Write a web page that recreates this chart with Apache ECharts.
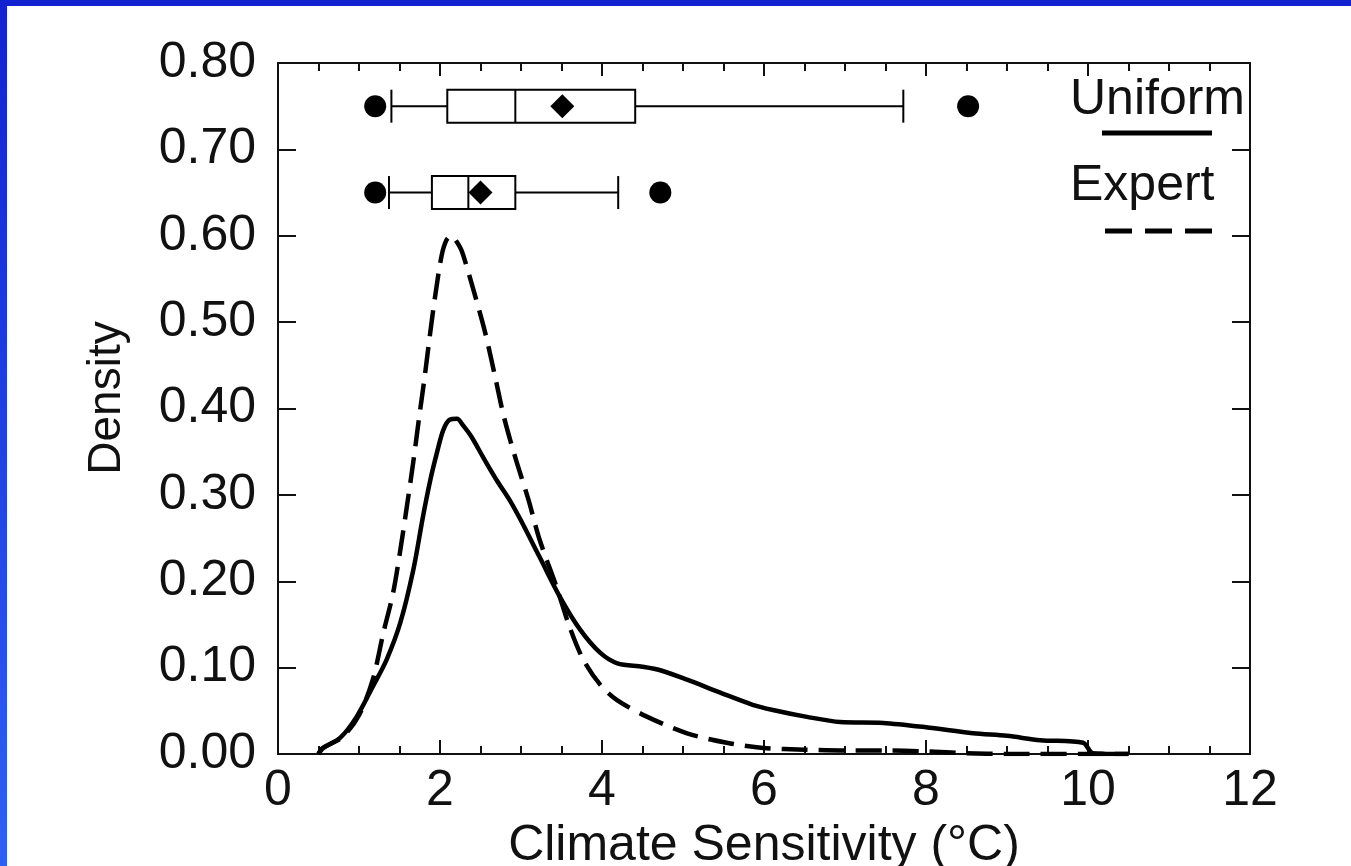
<!DOCTYPE html>
<html>
<head>
<meta charset="utf-8">
<script src="https://cdn.jsdelivr.net/npm/echarts@6/dist/echarts.min.js"></script>
<style>
  html, body { margin: 0; padding: 0; background: #fff; }
  #wrap { position: relative; width: 1351px; height: 866px; overflow: hidden; background: #fff; }
  #chart { position: absolute; left: 0; top: 0; width: 1351px; height: 866px; }
  #bTop { position: absolute; left: 0; top: 0; width: 1351px; height: 6px; background: #1222d0; z-index: 5; }
  #bLeft { position: absolute; left: 0; top: 0; width: 7px; height: 866px; background: linear-gradient(#1222d0, #2f60f4); z-index: 5; }
</style>
</head>
<body>
<div id="wrap">
  <div id="chart"></div>
  <div id="bTop"></div>
  <div id="bLeft"></div>
</div>
<script>
// ---- data ----
const xTicks = [0, 2, 4, 6, 8, 10, 12];
const yTicks = [0.0, 0.1, 0.2, 0.3, 0.4, 0.5, 0.6, 0.7, 0.8];

const uniformX = [0.50, 0.54, 0.77, 0.97, 1.17, 1.34, 1.51, 1.67, 1.79, 1.88, 1.96, 2.04, 2.12, 2.21, 2.28, 2.39, 2.53, 2.70, 2.86, 2.99, 3.23, 3.48, 3.73, 3.98, 4.19, 4.50, 4.72, 5.05, 5.46, 5.86, 6.11, 6.53, 6.94, 7.47, 8.00, 8.58, 9.00, 9.41, 9.94, 10.06, 10.50];
const uniformY = [0.000, 0.006, 0.019, 0.043, 0.078, 0.109, 0.152, 0.213, 0.275, 0.317, 0.348, 0.375, 0.387, 0.388, 0.381, 0.367, 0.344, 0.317, 0.294, 0.272, 0.228, 0.182, 0.144, 0.117, 0.105, 0.101, 0.097, 0.086, 0.071, 0.057, 0.051, 0.043, 0.037, 0.036, 0.031, 0.024, 0.021, 0.016, 0.013, 0.001, 0.000];

const expertX = [0.50, 0.56, 0.80, 1.00, 1.17, 1.30, 1.42, 1.51, 1.59, 1.67, 1.74, 1.81, 1.87, 1.94, 2.02, 2.08, 2.14, 2.20, 2.27, 2.42, 2.56, 2.68, 2.79, 2.93, 3.09, 3.23, 3.44, 3.60, 3.77, 3.98, 4.19, 4.56, 5.05, 5.54, 5.99, 6.50, 7.00, 7.50, 8.00, 8.50, 9.00, 10.00, 10.50];
const expertY = [0.000, 0.007, 0.020, 0.045, 0.086, 0.140, 0.186, 0.236, 0.286, 0.338, 0.388, 0.436, 0.481, 0.530, 0.577, 0.595, 0.600, 0.594, 0.582, 0.535, 0.487, 0.437, 0.390, 0.343, 0.295, 0.248, 0.193, 0.147, 0.109, 0.080, 0.062, 0.043, 0.024, 0.013, 0.007, 0.005, 0.004, 0.004, 0.003, 0.001, 0.000, 0.000, 0.000];

// box plots: rows = Uniform, Expert
const boxNames = ['Uniform', 'Expert'];
const boxRow = [0.75, 0.65];
const boxWhiskerLow = [1.40, 1.37];
const boxQ1 = [2.09, 1.90];
const boxMedian = [2.93, 2.35];
const boxQ3 = [4.41, 2.93];
const boxWhiskerHigh = [7.72, 4.20];
const boxMean = [3.51, 2.50];
const uniformOutliers = [1.20, 8.52];
const expertOutliers = [1.20, 4.72];

// ---- build chart ----
const FONT = '"Liberation Sans", Arial, Helvetica, sans-serif';
const INK = '#111';

const chart = echarts.init(document.getElementById('chart'), null, { renderer: 'canvas' });

const zip = (xs, ys) => xs.map((x, i) => [x, ys[i]]);
const boxData = boxRow.map((r, i) => [r, boxWhiskerLow[i], boxQ1[i], boxMedian[i], boxQ3[i], boxWhiskerHigh[i]]);
const meanData = boxRow.map((r, i) => [boxMean[i], r]);
const outlierData = uniformOutliers.map(v => [v, boxRow[0]]).concat(expertOutliers.map(v => [v, boxRow[1]]));

const axisLine = { show: true, onZero: false, lineStyle: { color: INK, width: 2 } };

const option = {
  animation: false,
  backgroundColor: '#fff',
  grid: { left: 278, right: 101, top: 63, bottom: 112, containLabel: false, outerBoundsMode: 'none' },
  xAxis: [
    {
      type: 'value', min: 0, max: 12, interval: 2, position: 'bottom',
      axisLine: axisLine,
      axisTick: { show: true, inside: true, length: 14, lineStyle: { color: INK, width: 2 } },
      minorTick: { show: true, splitNumber: 4, length: 8, lineStyle: { color: INK, width: 2 } },
      splitLine: { show: false }, minorSplitLine: { show: false },
      axisLabel: { show: true, margin: 12, fontSize: 50, fontFamily: FONT, color: INK,
        formatter: v => (xTicks.indexOf(v) >= 0 ? String(v) : '') },
      name: 'Climate Sensitivity (°C)', nameLocation: 'middle', nameGap: 49,
      nameTextStyle: { fontSize: 50, fontFamily: FONT, color: INK }
    },
    {
      type: 'value', min: 0, max: 12, interval: 2, position: 'top',
      axisLine: axisLine,
      axisTick: { show: true, inside: true, length: 13, lineStyle: { color: INK, width: 2 } },
      minorTick: { show: true, splitNumber: 4, length: 8, lineStyle: { color: INK, width: 2 } },
      splitLine: { show: false }, axisLabel: { show: false }
    }
  ],
  yAxis: [
    {
      type: 'value', min: 0, max: 0.8, interval: 0.1, position: 'left',
      axisLine: axisLine,
      axisTick: { show: true, inside: true, length: 18, lineStyle: { color: INK, width: 2 } },
      splitLine: { show: false },
      axisLabel: { show: true, margin: 22, fontSize: 50, fontFamily: FONT, color: INK,
        formatter: v => { const t = yTicks.find(y => Math.abs(y - v) < 1e-9); return t === undefined ? '' : t.toFixed(2); } }
    },
    {
      type: 'value', min: 0, max: 0.8, interval: 0.1, position: 'right',
      axisLine: axisLine,
      axisTick: { show: true, inside: true, length: 18, lineStyle: { color: INK, width: 2 } },
      splitLine: { show: false }, axisLabel: { show: false }
    }
  ],
  series: [
    {
      name: 'Uniform', type: 'line', xAxisIndex: 0, yAxisIndex: 0,
      data: zip(uniformX, uniformY), showSymbol: false, smooth: 0.3,
      lineStyle: { color: '#000', width: 4.5, cap: 'butt' }, z: 3
    },
    {
      name: 'Expert', type: 'line', xAxisIndex: 0, yAxisIndex: 0,
      data: zip(expertX, expertY), showSymbol: false, smooth: 0.3,
      lineStyle: { color: '#000', width: 4.5, type: [26, 11], cap: 'butt' }, z: 3
    },
    {
      name: 'boxes', type: 'custom', xAxisIndex: 0, yAxisIndex: 0,
      data: boxData,
      encode: { x: [1, 2, 3, 4, 5], y: 0 },
      renderItem: function (params, api) {
        const r = api.value(0);
        const lo = api.coord([api.value(1), r]);
        const q1 = api.coord([api.value(2), r]);
        const md = api.coord([api.value(3), r]);
        const q3 = api.coord([api.value(4), r]);
        const hi = api.coord([api.value(5), r]);
        const h = 16.5;
        const st = { stroke: '#000', lineWidth: 2, fill: null };
        return {
          type: 'group',
          children: [
            { type: 'line', shape: { x1: lo[0], y1: lo[1], x2: q1[0], y2: q1[1] }, style: st },
            { type: 'line', shape: { x1: q3[0], y1: q3[1], x2: hi[0], y2: hi[1] }, style: st },
            { type: 'line', shape: { x1: lo[0], y1: lo[1] - h, x2: lo[0], y2: lo[1] + h }, style: st },
            { type: 'line', shape: { x1: hi[0], y1: hi[1] - h, x2: hi[0], y2: hi[1] + h }, style: st },
            { type: 'rect', shape: { x: q1[0], y: q1[1] - h, width: q3[0] - q1[0], height: 2 * h }, style: { stroke: '#000', lineWidth: 2, fill: '#fff' } },
            { type: 'line', shape: { x1: md[0], y1: md[1] - h, x2: md[0], y2: md[1] + h }, style: st }
          ]
        };
      },
      z: 4
    },
    {
      name: 'means', type: 'scatter', xAxisIndex: 0, yAxisIndex: 0,
      data: meanData, symbol: 'diamond', symbolSize: [24, 24],
      itemStyle: { color: '#000', opacity: 1 }, z: 6
    },
    {
      name: 'outliers', type: 'scatter', xAxisIndex: 0, yAxisIndex: 0,
      data: outlierData, symbol: 'circle', symbolSize: 22,
      itemStyle: { color: '#000', opacity: 1 }, z: 6
    }
  ],
  graphic: [
    { type: 'text', x: 107, y: 398, rotation: Math.PI / 2,
      style: { text: 'Density', font: '46px ' + FONT, fill: INK, align: 'center', verticalAlign: 'middle' } },
    { type: 'text', x: 1070, y: 100,
      style: { text: boxNames[0], font: '50px ' + FONT, fill: INK, align: 'left', verticalAlign: 'middle' } },
    { type: 'line', shape: { x1: 1102, y1: 133, x2: 1212, y2: 133 }, style: { stroke: '#000', lineWidth: 5 } },
    { type: 'text', x: 1070, y: 186,
      style: { text: boxNames[1], font: '50px ' + FONT, fill: INK, align: 'left', verticalAlign: 'middle' } },
    { type: 'line', shape: { x1: 1105, y1: 231, x2: 1212, y2: 231 }, style: { stroke: '#000', lineWidth: 5, lineDash: [27, 13] } }
  ]
};

chart.setOption(option);
</script>
</body>
</html>
